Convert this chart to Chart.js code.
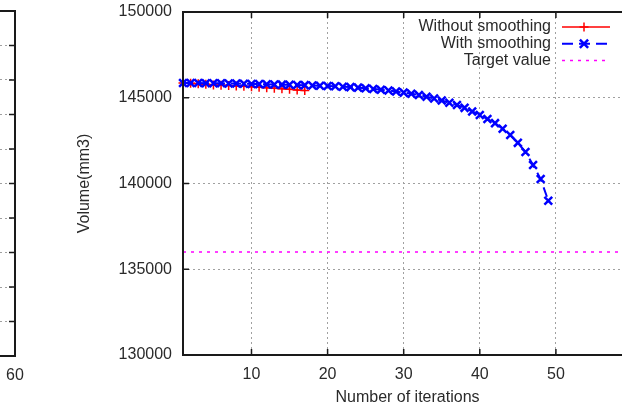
<!DOCTYPE html>
<html>
<head>
<meta charset="utf-8">
<script src="https://cdn.jsdelivr.net/npm/chart.js@4/dist/chart.umd.min.js"></script>
<style>
  html, body { margin: 0; padding: 0; background: #fff; overflow: hidden; }
  #wrap { position: relative; width: 622px; height: 402px; overflow: hidden; }
  #main { position: absolute; left: 0; top: 0; }
  #prev { position: absolute; left: -185px; top: 0; }
</style>
</head>
<body>
<div id="wrap">
  <canvas id="main" width="650" height="420"></canvas>
  <canvas id="prev" width="220" height="420"></canvas>
</div>
<script>
const iterations = [1, 2, 3, 4, 5, 6, 7, 8, 9, 10, 11, 12, 13, 14, 15, 16, 17, 18, 19, 20,
  21, 22, 23, 24, 25, 26, 27, 28, 29, 30, 31, 32, 33, 34, 35, 36, 37, 38, 39, 40,
  41, 42, 43, 44, 45, 46, 47, 48, 49];

const withoutSmoothing = [145860, 145840, 145810, 145780, 145750, 145730, 145710, 145690, 145665, 145640,
  145610, 145580, 145550, 145520, 145490, 145455, 145420];

const withSmoothing = [145860, 145860, 145855, 145850, 145845, 145840, 145835, 145825, 145815, 145805,
  145795, 145785, 145775, 145765, 145755, 145745, 145735, 145720, 145705, 145690,
  145670, 145645, 145620, 145590, 145555, 145515, 145470, 145420, 145365, 145300,
  145235, 145160, 145060, 144960, 144840, 144710, 144580, 144410, 144200, 144000,
  143760, 143520, 143190, 142830, 142370, 141840, 141080, 140260, 139000];

const targetX = [1, 60];
const targetValue = 136000;

const xTicks = [10, 20, 30, 40, 50, 60];
const yTicks = [130000, 135000, 140000, 145000, 150000];

// neighbouring plot, only its right edge shows
const prevXTicks = [0, 10, 20, 30, 40, 50, 60];
const prevYTicks = [0, 1, 2, 3, 4, 5, 6, 7, 8, 9, 10];

const font = { family: '"Liberation Sans", Arial, sans-serif', size: 16 };
const textColor = '#2a2a2a';

const toPoints = (xs, ys) => ys.map((y, i) => ({ x: xs[i], y: y }));

const framePlugin = {
    id: 'frame',
    afterDraw: (chart) => {
        const { ctx, chartArea: a, scales } = chart;
        const t = 6;
        ctx.save();
        ctx.strokeStyle = '#1a1a1a';
        ctx.lineWidth = 1.5;
        ctx.beginPath();
        scales.x.ticks.forEach(tk => {
            const px = scales.x.getPixelForValue(tk.value);
            ctx.moveTo(px, a.bottom); ctx.lineTo(px, a.bottom - t);
            ctx.moveTo(px, a.top); ctx.lineTo(px, a.top + t);
        });
        scales.y.ticks.forEach(tk => {
            const py = scales.y.getPixelForValue(tk.value);
            ctx.moveTo(a.left, py); ctx.lineTo(a.left + t, py);
            ctx.moveTo(a.right, py); ctx.lineTo(a.right - t, py);
        });
        ctx.stroke();
        ctx.lineWidth = 2;
        ctx.strokeRect(a.left, a.top, a.right - a.left, a.bottom - a.top);
        ctx.restore();
    }
};

const keyPlugin = {
    id: 'key',
    afterDraw: (chart) => {
        const { ctx } = chart;
        ctx.save();
        ctx.font = '16px "Liberation Sans", Arial, sans-serif';
        ctx.textAlign = 'right';
        ctx.textBaseline = 'middle';
        chart.data.datasets.forEach((ds, i) => {
            const y = 27 + i * 16.8;
            ctx.fillStyle = textColor;
            ctx.fillText(ds.label, 551, y);
            ctx.strokeStyle = ds.borderColor;
            ctx.lineWidth = ds.borderWidth;
            ctx.setLineDash(ds.keyDash || []);
            ctx.beginPath();
            ctx.moveTo(562, y); ctx.lineTo(610, y);
            ctx.stroke();
            ctx.setLineDash([]);
            const r = ds.pointRadius;
            const cx = 584;
            if (r > 0) {
                ctx.lineWidth = ds.pointBorderWidth;
                ctx.beginPath();
                if (ds.pointStyle === 'cross') {
                    ctx.moveTo(cx - r, y); ctx.lineTo(cx + r, y);
                    ctx.moveTo(cx, y - r); ctx.lineTo(cx, y + r);
                } else {
                    const d = r * 0.75;
                    ctx.moveTo(cx - d, y - d); ctx.lineTo(cx + d, y + d);
                    ctx.moveTo(cx - d, y + d); ctx.lineTo(cx + d, y - d);
                }
                ctx.stroke();
            }
        });
        ctx.restore();
    }
};

const gridOpts = { color: '#a0a0a0', lineWidth: 1, drawTicks: false };
const borderOpts = { display: false, dash: [2, 3] };

// keep label overhang from pushing the plot area around
const fixPadding = (s) => {
    s.paddingTop = 0;
    s.paddingBottom = 0;
    s.paddingLeft = 0;
    s.paddingRight = 0;
};

new Chart(document.getElementById('main'), {
    type: 'line',
    data: {
        datasets: [
            {
                label: 'Without smoothing',
                data: toPoints(iterations, withoutSmoothing),
                borderColor: '#ff0000',
                borderWidth: 1.5,
                pointStyle: 'cross',
                pointRadius: 4.5,
                pointBorderWidth: 1.5,
                pointBorderColor: '#ff0000',
                order: 1,
                clip: false
            },
            {
                label: 'With smoothing',
                data: toPoints(iterations, withSmoothing),
                borderColor: '#0000ff',
                borderWidth: 2,
                borderDash: [10, 6],
                keyDash: [11, 6],
                pointStyle: 'crossRot',
                pointRadius: 5.5,
                pointBorderWidth: 2.5,
                pointBorderColor: '#0000ff',
                order: 0,
                clip: false
            },
            {
                label: 'Target value',
                data: targetX.map(x => ({ x: x, y: targetValue })),
                borderColor: '#ff00ff',
                borderWidth: 1.5,
                borderDash: [3, 5],
                keyDash: [3, 5],
                pointRadius: 0,
                order: 2
            }
        ]
    },
    options: {
        responsive: false,
        animation: false,
        devicePixelRatio: 1,
        layout: { padding: { top: 12, right: 18, bottom: 0, left: 0 } },
        elements: { line: { tension: 0 } },
        plugins: { legend: { display: false }, tooltip: { enabled: false } },
        scales: {
            x: {
                type: 'linear',
                min: 1,
                max: 60,
                afterBuildTicks: (s) => { s.ticks = xTicks.map(v => ({ value: v })); },
                afterFit: (s) => { s.height = 65; fixPadding(s); },
                grid: gridOpts,
                border: borderOpts,
                ticks: { padding: 10, color: textColor, font: font, callback: (v) => String(v) },
                title: { display: true, text: 'Number of iterations', color: textColor, font: font, padding: { top: 0, bottom: 12.4 } }
            },
            y: {
                type: 'linear',
                min: 130000,
                max: 150000,
                afterBuildTicks: (s) => { s.ticks = yTicks.map(v => ({ value: v })); },
                afterFit: (s) => { s.width = 183; fixPadding(s); },
                grid: gridOpts,
                border: borderOpts,
                ticks: { padding: 11, color: textColor, font: font, callback: (v) => String(v) },
                title: { display: true, text: 'Volume(mm3)', color: textColor, font: font, padding: { top: 75.4, bottom: 0 } }
            }
        }
    },
    plugins: [framePlugin, keyPlugin]
});

new Chart(document.getElementById('prev'), {
    type: 'line',
    data: { datasets: [] },
    options: {
        responsive: false,
        animation: false,
        devicePixelRatio: 1,
        layout: { padding: { top: 11, right: 20, bottom: 0, left: 0 } },
        plugins: { legend: { display: false }, tooltip: { enabled: false } },
        scales: {
            x: {
                type: 'linear',
                min: 0,
                max: 60,
                afterBuildTicks: (s) => { s.ticks = prevXTicks.map(v => ({ value: v })); },
                afterFit: (s) => { s.height = 64; fixPadding(s); },
                grid: { display: false, drawTicks: false },
                border: borderOpts,
                ticks: { padding: 10, color: textColor, font: font, callback: (v) => String(v) }
            },
            y: {
                type: 'linear',
                min: 0,
                max: 10,
                afterBuildTicks: (s) => { s.ticks = prevYTicks.map(v => ({ value: v })); },
                afterFit: (s) => { s.width = 20; fixPadding(s); },
                grid: gridOpts,
                border: borderOpts,
                ticks: { display: false }
            }
        }
    },
    plugins: [framePlugin]
});
</script>
</body>
</html>
